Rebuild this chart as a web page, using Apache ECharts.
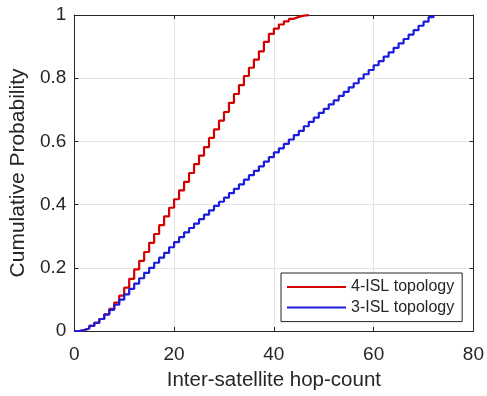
<!DOCTYPE html>
<html>
<head>
<meta charset="utf-8">
<script src="https://cdn.jsdelivr.net/npm/echarts@6/dist/echarts.min.js"></script>
<style>
html,body{margin:0;padding:0;background:#fff;}
#chart{width:487px;height:396px;}
</style>
</head>
<body>
<div id="chart"></div>
<script>
// Series names
const seriesNames = ['4-ISL topology', '3-ISL topology'];
// CDF value at hop-count 0,1,2,... (4-ISL topology)
const cdf4ISL = [0, 0.003, 0.008, 0.016, 0.026, 0.038, 0.053, 0.07, 0.09, 0.112,
  0.137, 0.165, 0.195, 0.222, 0.25, 0.279, 0.307, 0.335, 0.363, 0.39,
  0.417, 0.445, 0.472, 0.5, 0.528, 0.555, 0.582, 0.611, 0.638, 0.666,
  0.693, 0.722, 0.75, 0.778, 0.807, 0.833, 0.859, 0.885, 0.915, 0.94,
  0.957, 0.97, 0.98, 0.988, 0.994, 0.998, 0.9995, 1];
// CDF value at hop-count 0,1,2,... (3-ISL topology)
const cdf3ISL = [0, 0.003, 0.008, 0.016, 0.026, 0.038, 0.052, 0.067, 0.083, 0.099,
  0.116, 0.133, 0.15, 0.167, 0.184, 0.2, 0.216, 0.232, 0.247, 0.265,
  0.281, 0.297, 0.312, 0.326, 0.34, 0.354, 0.368, 0.382, 0.396, 0.409,
  0.422, 0.436, 0.45, 0.464, 0.479, 0.493, 0.507, 0.521, 0.536, 0.55,
  0.565, 0.578, 0.592, 0.606, 0.62, 0.633, 0.648, 0.662, 0.675, 0.69,
  0.703, 0.717, 0.73, 0.744, 0.757, 0.771, 0.784, 0.799, 0.8125, 0.826,
  0.841, 0.854, 0.868, 0.882, 0.896, 0.91, 0.924, 0.938, 0.952, 0.966,
  0.979, 0.993, 1];
// Axis ticks
const xTicks = [0, 20, 40, 60, 80];
const yTicks = [0, 0.2, 0.4, 0.6, 0.8, 1];
const xTitle = 'Inter-satellite hop-count';
const yTitle = 'Cumulative Probability';

const axisColor = '#262626';
const gridColor = '#e3e3e3';
const fontFam = '"Liberation Sans", Arial, Helvetica, sans-serif';

const toPairs = arr => arr.map((v, i) => [i, v]);

const chart = echarts.init(document.getElementById('chart'), null, {renderer: 'canvas'});
const xMin = xTicks[0], xMax = xTicks[xTicks.length - 1], xInt = xTicks[1] - xTicks[0];
const yMin = yTicks[0], yMax = yTicks[yTicks.length - 1], yInt = 0.2;

const boxAxisX = (pos) => ({
  type: 'value', position: pos, min: xMin, max: xMax, interval: xInt,
  axisLine: {show: true, onZero: false, lineStyle: {color: axisColor, width: 1}},
  axisTick: {show: true, inside: true, length: 4, lineStyle: {color: axisColor}},
  axisLabel: {show: false}, splitLine: {show: false}
});
const boxAxisY = (pos) => ({
  type: 'value', position: pos, min: yMin, max: yMax, interval: yInt,
  axisLine: {show: true, onZero: false, lineStyle: {color: axisColor, width: 1}},
  axisTick: {show: true, inside: true, length: 4, lineStyle: {color: axisColor}},
  axisLabel: {show: false}, splitLine: {show: false}
});

chart.setOption({
  animation: false,
  backgroundColor: '#ffffff',
  grid: {left: 74, right: 12, top: 15, bottom: 61, containLabel: false},
  xAxis: [
    {
      type: 'value', position: 'bottom', min: xMin, max: xMax, interval: xInt,
      name: xTitle, nameLocation: 'middle', nameGap: 39,
      nameTextStyle: {fontFamily: fontFam, fontSize: 20.5, color: axisColor},
      axisLine: {show: true, onZero: false, lineStyle: {color: axisColor, width: 1}},
      axisTick: {show: true, inside: true, length: 4, lineStyle: {color: axisColor}},
      axisLabel: {fontFamily: fontFam, fontSize: 19, color: axisColor, margin: 14},
      splitLine: {show: true, lineStyle: {color: gridColor, width: 1}}
    },
    boxAxisX('top')
  ],
  yAxis: [
    {
      type: 'value', position: 'left', min: yMin, max: yMax, interval: yInt,
      name: yTitle, nameLocation: 'middle', nameGap: 37,
      nameTextStyle: {fontFamily: fontFam, fontSize: 21, color: axisColor},
      axisLine: {show: true, onZero: false, lineStyle: {color: axisColor, width: 1}},
      axisTick: {show: true, inside: true, length: 4, lineStyle: {color: axisColor}},
      axisLabel: {fontFamily: fontFam, fontSize: 19, color: axisColor, margin: 8},
      splitLine: {show: true, lineStyle: {color: gridColor, width: 1}}
    },
    boxAxisY('right')
  ],
  legend: {
    show: true,
    orient: 'vertical',
    left: 281, top: 273,
    padding: [6, 8, 6, 6],
    itemWidth: 59, itemHeight: 2, itemGap: 4.6,
    icon: 'rect',
    backgroundColor: '#ffffff',
    borderColor: axisColor, borderWidth: 1,
    textStyle: {fontFamily: fontFam, fontSize: 16, color: axisColor},
    data: seriesNames
  },
  series: [
    {
      name: seriesNames[0], type: 'line', step: 'end', xAxisIndex: 0, yAxisIndex: 0,
      data: toPairs(cdf4ISL), symbol: 'none', showSymbol: false,
      lineStyle: {color: '#d40000', width: 2.2}, itemStyle: {color: '#d40000'}
    },
    {
      name: seriesNames[1], type: 'line', step: 'end', xAxisIndex: 0, yAxisIndex: 0,
      data: toPairs(cdf3ISL), symbol: 'none', showSymbol: false,
      lineStyle: {color: '#1c1cdc', width: 2.2}, itemStyle: {color: '#1c1cdc'}
    }
  ]
});
</script>
</body>
</html>
